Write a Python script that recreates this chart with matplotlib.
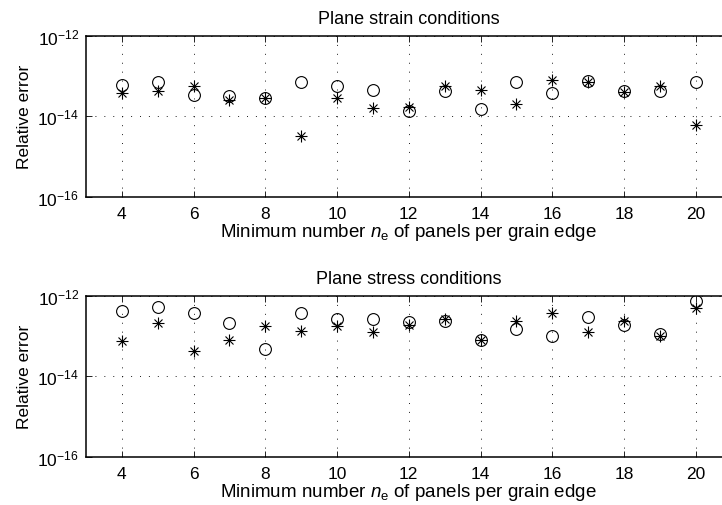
import numpy as np
import matplotlib
matplotlib.use("Agg")
import matplotlib.pyplot as plt
from matplotlib.ticker import NullLocator

plt.rcParams['font.family'] = ['Liberation Sans', 'DejaVu Sans']
plt.rcParams['mathtext.fontset'] = 'custom'
plt.rcParams['mathtext.rm'] = 'Liberation Sans'
plt.rcParams['mathtext.it'] = 'Liberation Sans:italic'

n_panels = [4, 5, 6, 7, 8, 9, 10, 11, 12, 13, 14, 15, 16, 17, 18, 19, 20]

# log10 of relative error
strain_circle_log = [-13.22, -13.16, -13.47, -13.49, -13.55, -13.14, -13.24, -13.34, -13.87,
                     -13.38, -13.82, -13.14, -13.43, -13.12, -13.37, -13.37, -13.16]
strain_star_log = [-13.43, -13.37, -13.26, -13.59, -13.55, -14.50, -13.55, -13.79, -13.77,
                   -13.24, -13.36, -13.69, -13.10, -13.16, -13.40, -13.24, -14.23]
stress_circle_log = [-12.375, -12.275, -12.44, -12.69, -13.33, -12.44, -12.57, -12.575, -12.66,
                     -12.64, -13.11, -12.82, -13.00, -12.52, -12.73, -12.94, -12.125]
stress_star_log = [-13.125, -12.67, -13.375, -13.09, -12.75, -12.875, -12.76, -12.90, -12.725,
                   -12.57, -13.11, -12.64, -12.44, -12.90, -12.64, -13.00, -12.31]

titles = ["Plane strain conditions", "Plane stress conditions"]
xlabel = r"Minimum number $n_{\rm e}$ of panels per grain edge"
ylabel = "Relative error"
xticks = [4, 6, 8, 10, 12, 14, 16, 18, 20]
yticks = [1e-16, 1e-14, 1e-12]

W, H = 722, 506
fig = plt.figure(figsize=(W / 100, H / 100), dpi=100)

left = 86 / W
width = (731.6 - 86) / W
height = 161 / H
ax_top = fig.add_axes([left, (H - 197.7) / H, width, height])
ax_bot = fig.add_axes([left, (H - 457.7) / H, width, height])

datasets = [
    (strain_circle_log, strain_star_log),
    (stress_circle_log, stress_star_log),
]

for ax, title, (circ, star) in zip([ax_top, ax_bot], titles, datasets):
    circ_v = 10.0 ** np.array(circ)
    star_v = 10.0 ** np.array(star)
    ax.plot(n_panels, circ_v, linestyle='none', marker='o', markersize=8.5,
            markerfacecolor='none', markeredgecolor='black', markeredgewidth=0.8)
    ax.plot(n_panels, star_v, linestyle='none', marker='+', markersize=8.0,
            markeredgecolor='black', markeredgewidth=0.8)
    ax.plot(n_panels, star_v, linestyle='none', marker='x', markersize=5.8,
            markeredgecolor='black', markeredgewidth=0.8)
    ax.set_yscale('log')
    ax.set_xlim(3, 21)
    ax.set_ylim(1e-16, 1e-12)
    ax.set_xticks(xticks)
    ax.set_yticks(yticks)
    ax.yaxis.set_minor_locator(NullLocator())
    ax.xaxis.set_minor_locator(NullLocator())
    ax.tick_params(direction='in', top=True, right=True, length=4, width=0.6,
                   labelsize=12.5, colors='black')
    ax.tick_params(axis='x', pad=7)
    ax.tick_params(axis='y', pad=5)
    ax.grid(True, which='major', color='black', linewidth=0.6,
            linestyle=(0, (1.2, 9.5)))
    for sp in ax.spines.values():
        sp.set_linewidth(1.1)
        sp.set_color('black')
    ax.set_title(title, fontsize=13, pad=9)
    ax.set_xlabel(xlabel, fontsize=13.5, labelpad=0)
    ax.set_ylabel(ylabel, fontsize=12.5, labelpad=4)

fig.savefig("out.png", dpi=100)
